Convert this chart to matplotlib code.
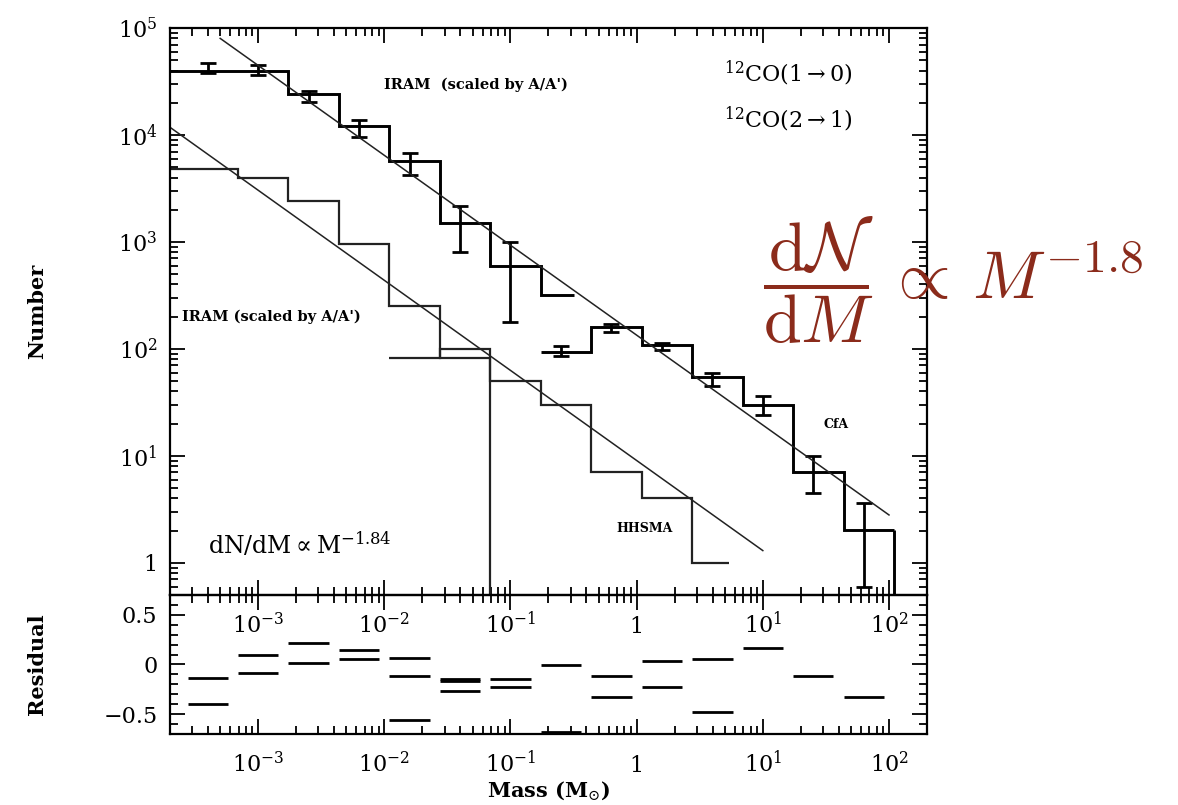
import matplotlib
matplotlib.use("Agg")
import matplotlib.pyplot as plt
from matplotlib.ticker import MultipleLocator
import numpy as np

plt.rcParams['font.family'] = 'DejaVu Serif'
plt.rcParams['mathtext.fontset'] = 'dejavuserif'

# all masses as log10(M / Msun)
iram_edges = [-3.96, -3.56, -3.16, -2.76, -2.36, -1.96, -1.56, -1.16, -0.76, -0.50]
iram_counts = [40000, 40000, 40000, 24000, 12000, 5700, 1500, 600, 316]
iram_pts_x = [-3.4, -3.0, -2.6, -2.2, -1.8, -1.4, -1.0]
iram_pts = [41000, 40300, 23000, 11500, 5300, 1400, 550]
iram_lo = [38000, 36300, 20400, 9600, 4200, 800, 180]
iram_hi = [47000, 44800, 26000, 13900, 6800, 2150, 1000]

iram2_edges = [-3.96, -3.56, -3.16, -2.76, -2.36, -1.96, -1.56, -1.16]
iram2_counts = [4800, 4800, 4000, 2400, 950, 250, 82]

sma_edges = [-1.96, -1.56, -1.16, -0.76, -0.36, 0.04, 0.44, 0.73]
sma_counts = [82, 100, 50, 30, 7, 4, 1]

cfa_edges = [-0.76, -0.36, 0.04, 0.44, 0.84, 1.24, 1.64, 2.04]
cfa_counts = [93, 160, 108, 54, 30, 7, 2.04]
cfa_pts_x = [-0.6, -0.2, 0.2, 0.6, 1.0, 1.4, 1.8]
cfa_pts = [93, 158, 105, 52, 29, 6.8, 2.0]
cfa_lo = [85, 145, 97, 45, 24, 4.5, 0.6]
cfa_hi = [107, 172, 114, 60, 36, 10, 3.6]

# power-law fits (end points)
fit_hi_m = [5e-4, 100]
fit_hi_n = [80000, 2.8]
fit_lo_m = [2e-4, 10]
fit_lo_n = [11800, 1.3]

# residuals (log10 M at bin centre, residual)
res_x = [-3.4, -3.4, -3.0, -3.0, -2.6, -2.6, -2.2, -2.2, -1.8, -1.8, -1.8,
         -1.4, -1.4, -1.4, -1.0, -1.0, -0.6, -0.6, -0.2, -0.2, 0.2, 0.2,
         0.6, 0.6, 1.0, 1.4, 1.8]
res_y = [-0.14, -0.40, 0.095, -0.09, 0.22, 0.02, 0.15, 0.06, 0.07, -0.12, -0.56,
         -0.15, -0.17, -0.27, -0.15, -0.23, -0.01, -0.68, -0.12, -0.33, 0.04, -0.225,
         0.06, -0.48, 0.17, -0.12, -0.33]
res_half = 0.16

x_ticks = [1e-3, 1e-2, 1e-1, 1, 10, 100]
x_labels = ['$10^{-3}$', '$10^{-2}$', '$10^{-1}$', '1', '$10^1$', '$10^2$']
y_ticks = [1, 10, 100, 1e3, 1e4, 1e5]
y_labels = ['1', '$10^1$', '$10^2$', '$10^3$', '$10^4$', '$10^5$']

fig = plt.figure(figsize=(11.78, 8.05), dpi=100)
ax = fig.add_axes([0.1443, 0.2609, 0.6426, 0.7043])
axr = fig.add_axes([0.1443, 0.0882, 0.6426, 0.1727])
axr.patch.set_facecolor('none')

k = 'black'
ax.stairs(iram_counts, 10 ** np.array(iram_edges), baseline=None, color=k, lw=2.1)
ax.stairs(iram2_counts, 10 ** np.array(iram2_edges), baseline=None, color='#222222', lw=1.6)
ax.vlines(10 ** iram2_edges[-1], 0.3, iram2_counts[-1], color='#222222', lw=1.6)
ax.stairs(sma_counts, 10 ** np.array(sma_edges), baseline=None, color='#222222', lw=1.6)
ax.stairs(cfa_counts, 10 ** np.array(cfa_edges), baseline=None, color=k, lw=2.1)
ax.vlines(10 ** cfa_edges[-1], 0.3, cfa_counts[-1], color=k, lw=2.1)

ip = np.array(iram_pts)
ax.errorbar(10 ** np.array(iram_pts_x), ip, yerr=[ip - iram_lo, np.array(iram_hi) - ip],
            fmt='none', ecolor=k, elinewidth=2, capsize=6, capthick=2)
cp = np.array(cfa_pts)
ax.errorbar(10 ** np.array(cfa_pts_x), cp, yerr=[cp - cfa_lo, np.array(cfa_hi) - cp],
            fmt='none', ecolor=k, elinewidth=2, capsize=6, capthick=2)

ax.plot(fit_hi_m, fit_hi_n, color='#222222', lw=1.1)
ax.plot(fit_lo_m, fit_lo_n, color='#222222', lw=1.1)

ax.set_xscale('log')
ax.set_yscale('log')
ax.set_xlim(2e-4, 200)
ax.set_ylim(0.5, 1e5)
ax.set_xticks(x_ticks, x_labels)
ax.set_yticks(y_ticks, y_labels)

ax.text(0.0099, 29600, "IRAM  (scaled by A/A')", fontsize=10.5, fontweight='bold', va='center')
ax.text(2.5e-4, 200, "IRAM (scaled by A/A')", fontsize=10.5, fontweight='bold', va='center')
ax.text(4.9, 37400, r"$^{12}$CO(1$\rightarrow$0)", fontsize=16, va='center')
ax.text(4.9, 14100, r"$^{12}$CO(2$\rightarrow$1)", fontsize=16, va='center')
ax.text(30.4, 19.8, "CfA", fontsize=9, fontweight='bold', va='center')
ax.text(0.69, 2.08, "HHSMA", fontsize=9, fontweight='bold', va='center')
ax.text(4.0e-4, 1.5, r"dN/dM$\propto$M$^{-1.84}$", fontsize=17, va='center')

# residual panel
for xc, yv in zip(res_x, res_y):
    axr.hlines(yv, 10 ** (xc - res_half), 10 ** (xc + res_half), color=k, lw=2)
axr.set_xscale('log')
axr.set_xlim(2e-4, 200)
axr.set_ylim(-0.7, 0.7)
axr.set_xticks(x_ticks, x_labels)
axr.set_yticks([-0.5, 0, 0.5], ['\u22120.5', '0', '0.5'])
axr.yaxis.set_minor_locator(MultipleLocator(0.1))

for a in (ax, axr):
    a.tick_params(which='both', direction='in', top=True, right=True, width=1.3,
                  labelsize=16)
    a.tick_params(which='major', length=11)
    a.tick_params(which='minor', length=5.5)
    a.tick_params(axis='x', pad=27.5)
    a.tick_params(axis='y', pad=9)
    for lab in a.get_xticklabels():
        lab.set_va('baseline')
    for s in a.spines.values():
        s.set_linewidth(1.6)

ax.set_ylabel('Number', fontsize=15, fontweight='bold')
ax.yaxis.set_label_coords(-0.1625, 0.5)
axr.set_ylabel('Residual', fontsize=15, fontweight='bold')
axr.yaxis.set_label_coords(-0.1625, 0.5)
axr.set_xlabel(r'Mass (M$_{\odot}$)', fontsize=15, fontweight='bold')
axr.xaxis.set_label_coords(0.5, -0.324)

fig.text(0.6477, 0.652,
         r"$\dfrac{\mathrm{d}\mathcal{N}}{\mathrm{d}M}\,\propto\,M^{-1.8}$",
         fontsize=49, color='#8b2b1b', math_fontfamily='cm', va='center', ha='left')

fig.savefig('out.png', dpi=100)
